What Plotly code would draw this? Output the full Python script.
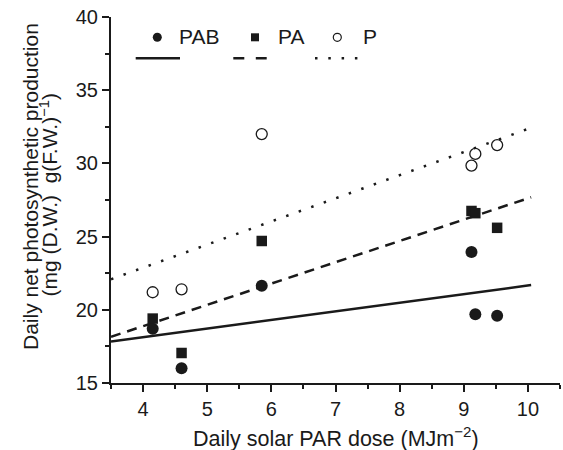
import numpy as np
import plotly.graph_objects as go

# ---- data ----
dose = [4.15, 4.6, 5.85, 9.12, 9.18, 9.52]
pab = [18.7, 16.0, 21.65, 23.95, 19.7, 19.6]
dose_pa = [4.15, 4.6, 5.85, 9.12, 9.18, 9.52]
pa = [19.4, 17.05, 24.7, 26.75, 26.6, 25.6]
p = [21.2, 21.4, 32.0, 29.85, 30.65, 31.25]
fit_range = [3.5, 10.05]

x_ticks = [4, 5, 6, 7, 8, 9, 10]
y_ticks = [15, 20, 25, 30, 35, 40]

W, H = 563, 450
ML, MR, MT, MB = 111, 3, 17, 67
PW, PH = W - ML - MR, H - MT - MB

def px(xp):
    return (xp - ML) / PW

def py(yp):
    return (H - MB - yp) / PH

INK = "#1a1a1a"
FONT = "Liberation Sans, Arial, Helvetica, sans-serif"

def fit(xs, ys):
    k, b = np.polyfit(xs, ys, 1)
    xr = np.array(fit_range)
    return xr, k * xr + b

fig = go.Figure()

for xs, ys, dash in [(dose, pab, "solid"), (dose_pa, pa, "10px,7px"), (dose, p, "2.5px,10.8px")]:
    fx, fy = fit(xs, ys)
    fig.add_trace(go.Scatter(x=fx, y=fy, mode="lines",
                             line=dict(color=INK, width=2.5, dash=dash),
                             showlegend=False, hoverinfo="skip"))

fig.add_trace(go.Scatter(x=dose, y=pab, mode="markers", name="PAB",
                         marker=dict(symbol="circle", size=12, color=INK, line=dict(width=0)),
                         showlegend=False))
fig.add_trace(go.Scatter(x=dose_pa, y=pa, mode="markers", name="PA",
                         marker=dict(symbol="square", size=10.5, color=INK, line=dict(width=0)),
                         showlegend=False))
fig.add_trace(go.Scatter(x=dose, y=p, mode="markers", name="P",
                         marker=dict(symbol="circle-open", size=11, color=INK, line=dict(width=1.3, color=INK)),
                         showlegend=False))

axis_common = dict(
    showline=True, linewidth=2, linecolor=INK,
    ticks="outside", ticklen=7, tickwidth=2, tickcolor=INK,
    showgrid=False, zeroline=False, mirror=False,
    tickfont=dict(family=FONT, size=20, color=INK),
)
fig.update_xaxes(range=[3.5, 10.5], tickvals=x_ticks, ticktext=[str(v) for v in x_ticks],
                 minor=dict(ticks="outside", ticklen=4, tickwidth=2, tickcolor=INK, dtick=0.5, tick0=3.5),
                 **axis_common)
fig.update_yaxes(range=[15, 40], tickvals=y_ticks, ticktext=[str(v) for v in y_ticks],
                 minor=dict(ticks="outside", ticklen=4, tickwidth=2, tickcolor=INK, dtick=2.5, tick0=15),
                 **axis_common)

annotations = [
    dict(text="Daily solar PAR dose (MJm<sup>−2</sup>)", x=px(335.5), y=py(437),
         xanchor="center", yanchor="middle", font_size=21.5),
    dict(text="Daily net photosynthetic production", x=px(30.5), y=py(186.5),
         xanchor="center", yanchor="middle", textangle=-90, font_size=21),
    dict(text="(mg (D.W.)  g(F.W.)<sup>−1</sup>)", x=px(48.5), y=py(195),
         xanchor="center", yanchor="middle", textangle=-90, font_size=21),
    dict(text="PAB", x=px(177), y=py(36.3), xanchor="left", yanchor="middle", font_size=21),
    dict(text="PA", x=px(276), y=py(36.3), xanchor="left", yanchor="middle", font_size=21),
    dict(text="P", x=px(361), y=py(36.3), xanchor="left", yanchor="middle", font_size=21),
]
for a in annotations:
    fs = a.pop("font_size", 20)
    a.update(xref="paper", yref="paper", showarrow=False,
             font=dict(family=FONT, size=fs, color=INK))
    fig.add_annotation(**a)

shapes = [
    # legend lines
    dict(type="line", x0=px(135.7), x1=px(180), y0=py(58.3), y1=py(58.3),
         line=dict(color=INK, width=2.5)),
    dict(type="line", x0=px(233.3), x1=px(266.7), y0=py(58.3), y1=py(58.3),
         line=dict(color=INK, width=2.5, dash="11px,11.5px")),
    dict(type="line", x0=px(315), x1=px(358), y0=py(58.3), y1=py(58.3),
         line=dict(color=INK, width=2.5, dash="2.5px,10.8px")),
]
# legend markers (pixel-sized)
for cx, cy, kind, size in [(157.3, 37.3, "circle", 9), (255, 37.3, "rect", 8), (337.3, 37.3, "open", 8)]:
    shp = dict(xref="paper", yref="paper", xsizemode="pixel", ysizemode="pixel",
               xanchor=px(cx), yanchor=py(cy),
               x0=-size / 2, x1=size / 2, y0=-size / 2, y1=size / 2)
    if kind == "circle":
        shp.update(type="circle", fillcolor=INK, line=dict(width=0))
    elif kind == "rect":
        shp.update(type="rect", fillcolor=INK, line=dict(width=0))
    else:
        shp.update(type="circle", fillcolor="white", line=dict(width=1.2, color=INK))
    shapes.append(shp)
for s in shapes:
    s.setdefault("xref", "paper")
    s.setdefault("yref", "paper")
    fig.add_shape(**s)

fig.update_layout(
    width=W, height=H,
    margin=dict(l=ML, r=MR, t=MT, b=MB, pad=0),
    plot_bgcolor="white", paper_bgcolor="white",
    font=dict(family=FONT, size=20, color=INK),
    showlegend=False,
)

fig.write_html("out.html", config={"displayModeBar": False},
               post_script="document.body.style.margin='0';document.body.style.overflow='hidden';")
